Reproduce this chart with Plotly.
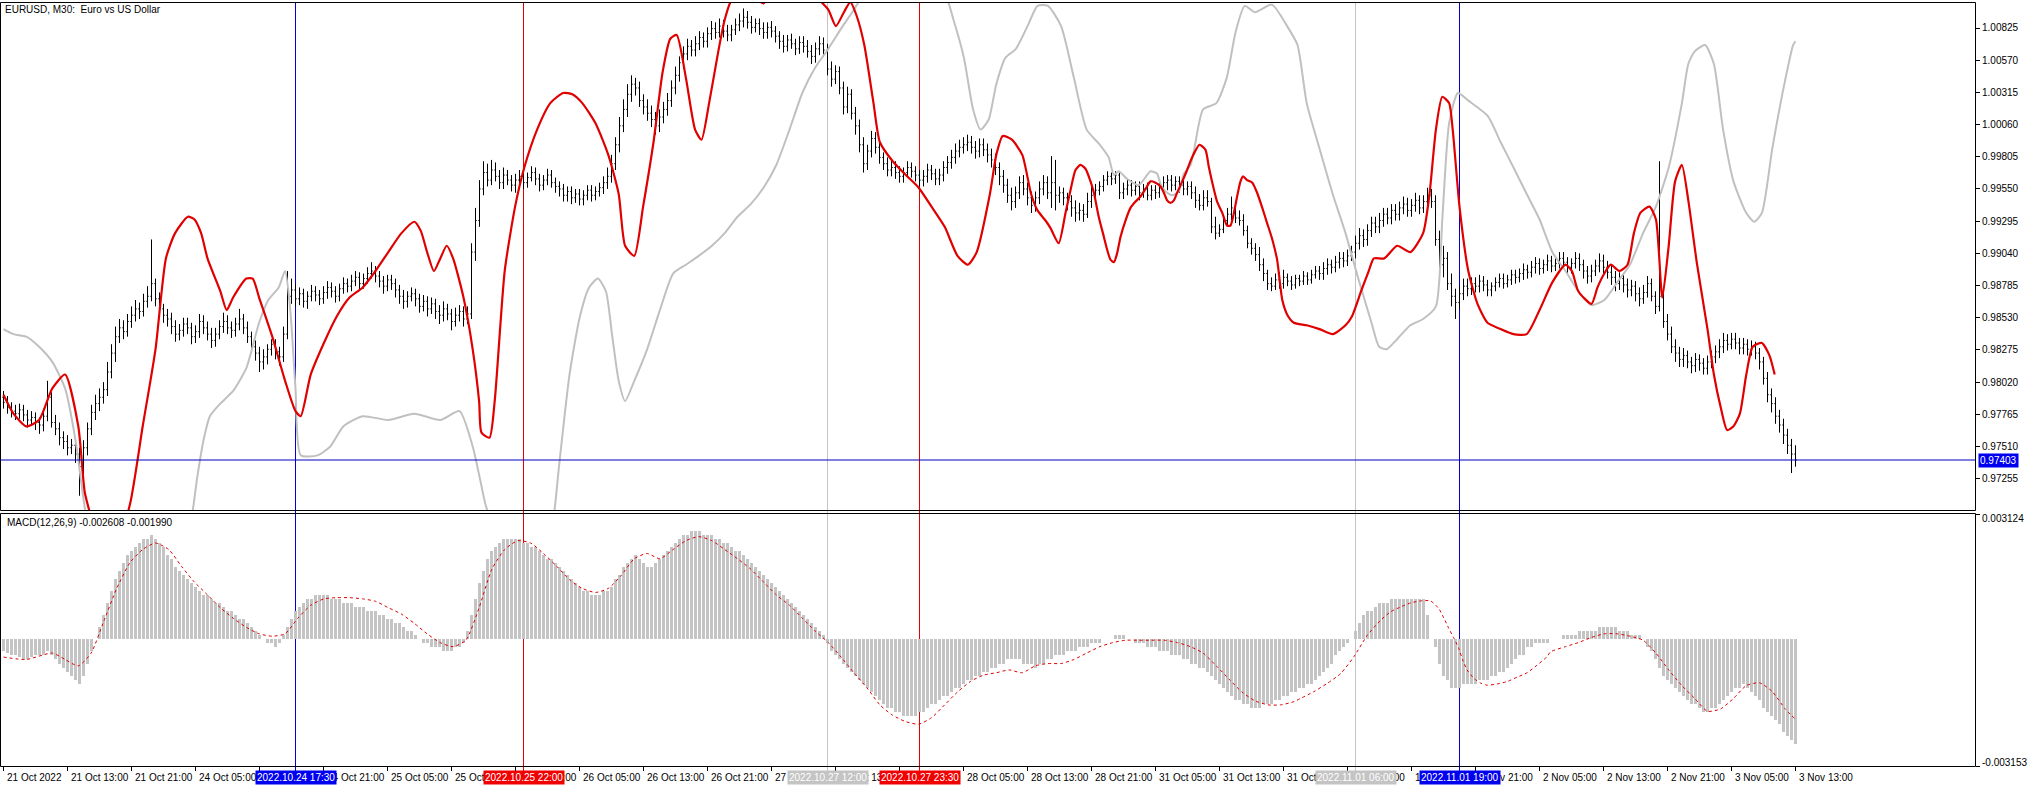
import plotly.graph_objects as go

W, H = 2028, 788

title_text = "EURUSD, M30:  Euro vs US Dollar"
macd_text = "MACD(12,26,9) -0.002608 -0.001990"

# ---------------- price bars (index = M30 bar number, 21 Oct 05:00 = 0) -------------
bar_idx = list(range(449))

opens = [
0.9790, 0.9786, 0.9782, 0.9779, 0.9777, 0.9780, 0.9776, 0.9772, 0.9774, 0.9770,
0.9768, 0.9775, 0.9790, 0.9770, 0.9765, 0.9758, 0.9755, 0.9750, 0.9752, 0.9745,
0.9735, 0.9750, 0.9765, 0.9778, 0.9785, 0.9790, 0.9796, 0.9810, 0.9825, 0.9838,
0.9845, 0.9842, 0.9850, 0.9855, 0.9860, 0.9858, 0.9866, 0.9870, 0.9880, 0.9868,
0.9860, 0.9855, 0.9852, 0.9846, 0.9840, 0.9843, 0.9848, 0.9845, 0.9838, 0.9842,
0.9850, 0.9845, 0.9840, 0.9835, 0.9840, 0.9846, 0.9850, 0.9845, 0.9843, 0.9848,
0.9852, 0.9845, 0.9838, 0.9830, 0.9825, 0.9818, 0.9822, 0.9828, 0.9832, 0.9826,
0.9822, 0.9840, 0.9870, 0.9875, 0.9868, 0.9872, 0.9866, 0.9870, 0.9874, 0.9871,
0.9868, 0.9873, 0.9877, 0.9874, 0.9870, 0.9876, 0.9880, 0.9878, 0.9882, 0.9885,
0.9880, 0.9884, 0.9888, 0.9890, 0.9886, 0.9882, 0.9878, 0.9883, 0.9880, 0.9875,
0.9870, 0.9866, 0.9870, 0.9872, 0.9868, 0.9862, 0.9866, 0.9860, 0.9864, 0.9858,
0.9855, 0.9860, 0.9856, 0.9850, 0.9855, 0.9858, 0.9852, 0.9856, 0.9905, 0.9930,
0.9955, 0.9968, 0.9962, 0.9970, 0.9965, 0.9960, 0.9966, 0.9962, 0.9958, 0.9962,
0.9965, 0.9960, 0.9964, 0.9968, 0.9963, 0.9958, 0.9962, 0.9966, 0.9960, 0.9957,
0.9955, 0.9950, 0.9953, 0.9948, 0.9951, 0.9947, 0.9950, 0.9954, 0.9950, 0.9953,
0.9956, 0.9960, 0.9965, 0.9975, 0.9990, 1.0005, 1.0018, 1.0030, 1.0038, 1.0035,
1.0025, 1.0020, 1.0015, 1.0010, 1.0005, 1.0012, 1.0018, 1.0025, 1.0035, 1.0045,
1.0055, 1.0062, 1.0068, 1.0065, 1.0070, 1.0075, 1.0072, 1.0078, 1.0082, 1.0079,
1.0084, 1.0080, 1.0077, 1.0081, 1.0085, 1.0088, 1.0091, 1.0087, 1.0083, 1.0086,
1.0082, 1.0079, 1.0083, 1.0080, 1.0076, 1.0072, 1.0068, 1.0073, 1.0070, 1.0066,
1.0071, 1.0068, 1.0064, 1.0060, 1.0066, 1.0070, 1.0065, 1.0050, 1.0042, 1.0048,
1.0035, 1.0020, 1.0030, 1.0015, 1.0005, 0.9990, 0.9975, 0.9985, 0.9995, 0.9988,
0.9980, 0.9975, 0.9970, 0.9972, 0.9968, 0.9965, 0.9968, 0.9972, 0.9969, 0.9966,
0.9962, 0.9965, 0.9970, 0.9967, 0.9963, 0.9966, 0.9972, 0.9976, 0.9980, 0.9985,
0.9988, 0.9990, 0.9992, 0.9988, 0.9985, 0.9990, 0.9986, 0.9982, 0.9978, 0.9972,
0.9965, 0.9958, 0.9950, 0.9945, 0.9952, 0.9960, 0.9955, 0.9948, 0.9942, 0.9948,
0.9955, 0.9960, 0.9952, 0.9960, 0.9950, 0.9952, 0.9948, 0.9945, 0.9940, 0.9936,
0.9938, 0.9935, 0.9945, 0.9950, 0.9954, 0.9957, 0.9962, 0.9965, 0.9963, 0.9966,
0.9952, 0.9955, 0.9958, 0.9954, 0.9957, 0.9952, 0.9955, 0.9950, 0.9954, 0.9952,
0.9956, 0.9960, 0.9962, 0.9958, 0.9961, 0.9958, 0.9955, 0.9957, 0.9952, 0.9946,
0.9942, 0.9948, 0.9945, 0.9925, 0.9920, 0.9923, 0.9930, 0.9935, 0.9940, 0.9932,
0.9930, 0.9922, 0.9912, 0.9908, 0.9903, 0.9895, 0.9888, 0.9880, 0.9878, 0.9883,
0.9880, 0.9885, 0.9882, 0.9879, 0.9884, 0.9882, 0.9886, 0.9883, 0.9887, 0.9890,
0.9888, 0.9892, 0.9895, 0.9893, 0.9897, 0.9900, 0.9898, 0.9902, 0.9905, 0.9912,
0.9918, 0.9915, 0.9922, 0.9928, 0.9925, 0.9930, 0.9935, 0.9932, 0.9938, 0.9935,
0.9940, 0.9943, 0.9938, 0.9942, 0.9946, 0.9940, 0.9945, 0.9950, 0.9945, 0.9915,
0.9895, 0.9900, 0.9880, 0.9870, 0.9865, 0.9872, 0.9878, 0.9876, 0.9880, 0.9878,
0.9882, 0.9879, 0.9875, 0.9878, 0.9881, 0.9884, 0.9880, 0.9883, 0.9887, 0.9885,
0.9888, 0.9891, 0.9889, 0.9893, 0.9896, 0.9892, 0.9895, 0.9898, 0.9894, 0.9896,
0.9900, 0.9897, 0.9893, 0.9896, 0.9900, 0.9895, 0.9890, 0.9886, 0.9890, 0.9894,
0.9898, 0.9893, 0.9889, 0.9885, 0.9880, 0.9884, 0.9879, 0.9875, 0.9878, 0.9872,
0.9868, 0.9873, 0.9880, 0.9870, 0.9862, 0.9870, 0.9850, 0.9840, 0.9830, 0.9825,
0.9820, 0.9823, 0.9818, 0.9815, 0.9820, 0.9817, 0.9813, 0.9818, 0.9822, 0.9826,
0.9830, 0.9835, 0.9832, 0.9836, 0.9833, 0.9829, 0.9832, 0.9828, 0.9830, 0.9825,
0.9818, 0.9805, 0.9792, 0.9785, 0.9775, 0.9768, 0.9760, 0.9752, 0.9745]

highs = [
0.9795, 0.9791, 0.9786, 0.9784, 0.9785, 0.9784, 0.9780, 0.9779, 0.9778, 0.9774,
0.9781, 0.9803, 0.9794, 0.9776, 0.9770, 0.9763, 0.9760, 0.9757, 0.9756, 0.9750,
0.9756, 0.9770, 0.9784, 0.9792, 0.9797, 0.9802, 0.9818, 0.9832, 0.9846, 0.9852,
0.9851, 0.9856, 0.9862, 0.9867, 0.9865, 0.9872, 0.9878, 0.9915, 0.9884, 0.9873,
0.9864, 0.9860, 0.9857, 0.9851, 0.9848, 0.9853, 0.9853, 0.9849, 0.9847, 0.9856,
0.9855, 0.9850, 0.9845, 0.9845, 0.9851, 0.9857, 0.9855, 0.9850, 0.9853, 0.9860,
0.9856, 0.9850, 0.9842, 0.9835, 0.9830, 0.9828, 0.9832, 0.9836, 0.9836, 0.9830,
0.9846, 0.9890, 0.9884, 0.9880, 0.9877, 0.9876, 0.9874, 0.9879, 0.9878, 0.9875,
0.9878, 0.9882, 0.9881, 0.9878, 0.9880, 0.9885, 0.9884, 0.9887, 0.9890, 0.9889,
0.9888, 0.9893, 0.9897, 0.9894, 0.9890, 0.9886, 0.9887, 0.9887, 0.9884, 0.9879,
0.9875, 0.9874, 0.9877, 0.9876, 0.9872, 0.9871, 0.9870, 0.9869, 0.9868, 0.9863,
0.9866, 0.9864, 0.9860, 0.9861, 0.9863, 0.9862, 0.9862, 0.9912, 0.9940, 0.9962,
0.9977, 0.9975, 0.9978, 0.9976, 0.9970, 0.9972, 0.9970, 0.9966, 0.9967, 0.9970,
0.9969, 0.9968, 0.9973, 0.9972, 0.9967, 0.9966, 0.9971, 0.9970, 0.9964, 0.9961,
0.9959, 0.9957, 0.9957, 0.9955, 0.9955, 0.9954, 0.9958, 0.9958, 0.9957, 0.9960,
0.9965, 0.9972, 0.9982, 0.9996, 1.0012, 1.0026, 1.0038, 1.0045, 1.0043, 1.0040,
1.0030, 1.0026, 1.0021, 1.0016, 1.0018, 1.0024, 1.0031, 1.0041, 1.0052, 1.0060,
1.0068, 1.0074, 1.0073, 1.0076, 1.0080, 1.0079, 1.0083, 1.0088, 1.0087, 1.0090,
1.0089, 1.0085, 1.0085, 1.0090, 1.0094, 1.0098, 1.0096, 1.0092, 1.0090, 1.0090,
1.0087, 1.0087, 1.0088, 1.0084, 1.0080, 1.0077, 1.0077, 1.0078, 1.0074, 1.0076,
1.0076, 1.0073, 1.0069, 1.0071, 1.0076, 1.0075, 1.0070, 1.0056, 1.0053, 1.0052,
1.0040, 1.0036, 1.0034, 1.0020, 1.0010, 0.9996, 0.9990, 1.0001, 1.0000, 0.9993,
0.9984, 0.9980, 0.9977, 0.9977, 0.9973, 0.9972, 0.9977, 0.9976, 0.9973, 0.9970,
0.9970, 0.9975, 0.9974, 0.9971, 0.9971, 0.9977, 0.9981, 0.9986, 0.9991, 0.9994,
0.9996, 0.9998, 0.9997, 0.9993, 0.9995, 0.9995, 0.9991, 0.9987, 0.9983, 0.9976,
0.9970, 0.9963, 0.9956, 0.9957, 0.9965, 0.9966, 0.9960, 0.9953, 0.9953, 0.9961,
0.9966, 0.9965, 0.9981, 0.9978, 0.9957, 0.9956, 0.9952, 0.9950, 0.9946, 0.9944,
0.9943, 0.9952, 0.9957, 0.9959, 0.9961, 0.9966, 0.9969, 0.9968, 0.9969, 0.9968,
0.9960, 0.9963, 0.9962, 0.9961, 0.9961, 0.9959, 0.9960, 0.9958, 0.9958, 0.9960,
0.9965, 0.9966, 0.9966, 0.9965, 0.9965, 0.9962, 0.9961, 0.9961, 0.9957, 0.9951,
0.9954, 0.9954, 0.9948, 0.9933, 0.9927, 0.9934, 0.9940, 0.9949, 0.9945, 0.9938,
0.9935, 0.9926, 0.9916, 0.9912, 0.9909, 0.9900, 0.9891, 0.9885, 0.9888, 0.9889,
0.9891, 0.9888, 0.9886, 0.9887, 0.9887, 0.9890, 0.9889, 0.9891, 0.9894, 0.9894,
0.9897, 0.9900, 0.9899, 0.9902, 0.9905, 0.9905, 0.9907, 0.9910, 0.9918, 0.9924,
0.9923, 0.9927, 0.9933, 0.9933, 0.9936, 0.9940, 0.9940, 0.9943, 0.9943, 0.9945,
0.9949, 0.9948, 0.9947, 0.9952, 0.9950, 0.9950, 0.9956, 0.9955, 0.9950, 0.9922,
0.9910, 0.9905, 0.9888, 0.9876, 0.9878, 0.9884, 0.9884, 0.9885, 0.9885, 0.9887,
0.9886, 0.9883, 0.9881, 0.9885, 0.9888, 0.9888, 0.9887, 0.9891, 0.9891, 0.9892,
0.9896, 0.9895, 0.9898, 0.9901, 0.9900, 0.9899, 0.9903, 0.9902, 0.9900, 0.9905,
0.9905, 0.9901, 0.9900, 0.9905, 0.9904, 0.9899, 0.9894, 0.9895, 0.9899, 0.9904,
0.9903, 0.9898, 0.9894, 0.9890, 0.9889, 0.9888, 0.9884, 0.9883, 0.9882, 0.9877,
0.9879, 0.9886, 0.9884, 0.9874, 0.9977, 0.9875, 0.9856, 0.9846, 0.9836, 0.9830,
0.9829, 0.9827, 0.9822, 0.9825, 0.9824, 0.9821, 0.9823, 0.9827, 0.9831, 0.9836,
0.9841, 0.9840, 0.9841, 0.9841, 0.9837, 0.9837, 0.9836, 0.9835, 0.9834, 0.9829,
0.9822, 0.9810, 0.9797, 0.9790, 0.9780, 0.9773, 0.9765, 0.9757, 0.9752]

lows = [
0.9781, 0.9777, 0.9774, 0.9772, 0.9773, 0.9771, 0.9766, 0.9768, 0.9764, 0.9761,
0.9763, 0.9771, 0.9766, 0.9760, 0.9752, 0.9749, 0.9744, 0.9745, 0.9738, 0.9712,
0.9722, 0.9744, 0.9760, 0.9772, 0.9779, 0.9785, 0.9791, 0.9805, 0.9818, 0.9833,
0.9836, 0.9838, 0.9845, 0.9850, 0.9852, 0.9854, 0.9861, 0.9866, 0.9862, 0.9855,
0.9849, 0.9846, 0.9840, 0.9834, 0.9835, 0.9838, 0.9840, 0.9832, 0.9833, 0.9837,
0.9840, 0.9835, 0.9829, 0.9830, 0.9836, 0.9841, 0.9840, 0.9837, 0.9838, 0.9843,
0.9840, 0.9833, 0.9825, 0.9819, 0.9810, 0.9812, 0.9816, 0.9823, 0.9820, 0.9815,
0.9818, 0.9836, 0.9864, 0.9862, 0.9863, 0.9861, 0.9860, 0.9866, 0.9866, 0.9863,
0.9864, 0.9868, 0.9869, 0.9865, 0.9866, 0.9872, 0.9873, 0.9874, 0.9878, 0.9875,
0.9876, 0.9880, 0.9884, 0.9881, 0.9877, 0.9872, 0.9874, 0.9875, 0.9869, 0.9864,
0.9860, 0.9861, 0.9866, 0.9862, 0.9857, 0.9858, 0.9854, 0.9856, 0.9852, 0.9848,
0.9850, 0.9851, 0.9843, 0.9846, 0.9850, 0.9846, 0.9848, 0.9852, 0.9898, 0.9925,
0.9950, 0.9957, 0.9958, 0.9961, 0.9955, 0.9955, 0.9958, 0.9953, 0.9952, 0.9957,
0.9955, 0.9956, 0.9961, 0.9958, 0.9953, 0.9954, 0.9958, 0.9956, 0.9952, 0.9949,
0.9945, 0.9945, 0.9943, 0.9944, 0.9942, 0.9942, 0.9946, 0.9945, 0.9946, 0.9949,
0.9951, 0.9955, 0.9960, 0.9970, 0.9984, 1.0000, 1.0012, 1.0024, 1.0029, 1.0020,
1.0014, 1.0009, 1.0004, 0.9998, 1.0000, 1.0007, 1.0013, 1.0020, 1.0030, 1.0040,
1.0050, 1.0057, 1.0060, 1.0060, 1.0065, 1.0067, 1.0067, 1.0073, 1.0074, 1.0075,
1.0075, 1.0072, 1.0072, 1.0077, 1.0080, 1.0083, 1.0082, 1.0078, 1.0079, 1.0077,
1.0074, 1.0074, 1.0075, 1.0071, 1.0066, 1.0063, 1.0064, 1.0066, 1.0061, 1.0062,
1.0063, 1.0059, 1.0054, 1.0055, 1.0061, 1.0060, 1.0045, 1.0036, 1.0038, 1.0030,
1.0014, 1.0015, 1.0010, 0.9998, 0.9984, 0.9968, 0.9970, 0.9980, 0.9983, 0.9975,
0.9970, 0.9965, 0.9965, 0.9963, 0.9960, 0.9960, 0.9964, 0.9964, 0.9961, 0.9957,
0.9957, 0.9960, 0.9962, 0.9958, 0.9958, 0.9961, 0.9967, 0.9971, 0.9975, 0.9980,
0.9983, 0.9985, 0.9983, 0.9979, 0.9980, 0.9981, 0.9976, 0.9972, 0.9966, 0.9958,
0.9952, 0.9944, 0.9938, 0.9940, 0.9947, 0.9950, 0.9942, 0.9936, 0.9937, 0.9943,
0.9950, 0.9947, 0.9940, 0.9938, 0.9944, 0.9942, 0.9938, 0.9933, 0.9929, 0.9930,
0.9929, 0.9932, 0.9940, 0.9946, 0.9950, 0.9953, 0.9958, 0.9958, 0.9959, 0.9947,
0.9947, 0.9950, 0.9949, 0.9950, 0.9946, 0.9948, 0.9946, 0.9946, 0.9947, 0.9948,
0.9951, 0.9954, 0.9953, 0.9954, 0.9952, 0.9950, 0.9950, 0.9947, 0.9940, 0.9938,
0.9938, 0.9941, 0.9920, 0.9915, 0.9917, 0.9920, 0.9925, 0.9930, 0.9928, 0.9926,
0.9918, 0.9908, 0.9903, 0.9898, 0.9890, 0.9882, 0.9875, 0.9874, 0.9875, 0.9876,
0.9876, 0.9878, 0.9875, 0.9876, 0.9878, 0.9879, 0.9879, 0.9880, 0.9884, 0.9883,
0.9883, 0.9887, 0.9888, 0.9889, 0.9892, 0.9893, 0.9894, 0.9898, 0.9900, 0.9907,
0.9909, 0.9910, 0.9917, 0.9920, 0.9920, 0.9925, 0.9927, 0.9927, 0.9930, 0.9930,
0.9935, 0.9933, 0.9933, 0.9937, 0.9935, 0.9936, 0.9940, 0.9940, 0.9910, 0.9885,
0.9885, 0.9875, 0.9862, 0.9852, 0.9860, 0.9867, 0.9870, 0.9871, 0.9873, 0.9873,
0.9874, 0.9870, 0.9870, 0.9874, 0.9877, 0.9876, 0.9877, 0.9879, 0.9880, 0.9881,
0.9883, 0.9884, 0.9885, 0.9888, 0.9887, 0.9888, 0.9890, 0.9889, 0.9890, 0.9892,
0.9892, 0.9888, 0.9888, 0.9892, 0.9890, 0.9884, 0.9880, 0.9881, 0.9886, 0.9889,
0.9888, 0.9884, 0.9879, 0.9874, 0.9875, 0.9873, 0.9869, 0.9870, 0.9866, 0.9862,
0.9864, 0.9869, 0.9866, 0.9856, 0.9858, 0.9845, 0.9835, 0.9825, 0.9818, 0.9814,
0.9814, 0.9813, 0.9809, 0.9810, 0.9811, 0.9808, 0.9808, 0.9813, 0.9817, 0.9821,
0.9825, 0.9827, 0.9828, 0.9828, 0.9824, 0.9824, 0.9823, 0.9823, 0.9820, 0.9812,
0.9800, 0.9786, 0.9778, 0.9769, 0.9762, 0.9753, 0.9745, 0.9730, 0.9735]

closes = [
0.9786, 0.9782, 0.9779, 0.9777, 0.9780, 0.9776, 0.9772, 0.9774, 0.9770, 0.9768,
0.9775, 0.9790, 0.9770, 0.9765, 0.9758, 0.9755, 0.9750, 0.9752, 0.9745, 0.9735,
0.9750, 0.9765, 0.9778, 0.9785, 0.9790, 0.9796, 0.9810, 0.9825, 0.9838, 0.9845,
0.9842, 0.9850, 0.9855, 0.9860, 0.9858, 0.9866, 0.9870, 0.9880, 0.9868, 0.9860,
0.9855, 0.9852, 0.9846, 0.9840, 0.9843, 0.9848, 0.9845, 0.9838, 0.9842, 0.9850,
0.9845, 0.9840, 0.9835, 0.9840, 0.9846, 0.9850, 0.9845, 0.9843, 0.9848, 0.9852,
0.9845, 0.9838, 0.9830, 0.9825, 0.9818, 0.9822, 0.9828, 0.9832, 0.9826, 0.9822,
0.9840, 0.9870, 0.9875, 0.9868, 0.9872, 0.9866, 0.9870, 0.9874, 0.9871, 0.9868,
0.9873, 0.9877, 0.9874, 0.9870, 0.9876, 0.9880, 0.9878, 0.9882, 0.9885, 0.9880,
0.9884, 0.9888, 0.9890, 0.9886, 0.9882, 0.9878, 0.9883, 0.9880, 0.9875, 0.9870,
0.9866, 0.9870, 0.9872, 0.9868, 0.9862, 0.9866, 0.9860, 0.9864, 0.9858, 0.9855,
0.9860, 0.9856, 0.9850, 0.9855, 0.9858, 0.9852, 0.9856, 0.9905, 0.9930, 0.9955,
0.9968, 0.9962, 0.9970, 0.9965, 0.9960, 0.9966, 0.9962, 0.9958, 0.9962, 0.9965,
0.9960, 0.9964, 0.9968, 0.9963, 0.9958, 0.9962, 0.9966, 0.9960, 0.9957, 0.9955,
0.9950, 0.9953, 0.9948, 0.9951, 0.9947, 0.9950, 0.9954, 0.9950, 0.9953, 0.9956,
0.9960, 0.9965, 0.9975, 0.9990, 1.0005, 1.0018, 1.0030, 1.0038, 1.0035, 1.0025,
1.0020, 1.0015, 1.0010, 1.0005, 1.0012, 1.0018, 1.0025, 1.0035, 1.0045, 1.0055,
1.0062, 1.0068, 1.0065, 1.0070, 1.0075, 1.0072, 1.0078, 1.0082, 1.0079, 1.0084,
1.0080, 1.0077, 1.0081, 1.0085, 1.0088, 1.0091, 1.0087, 1.0083, 1.0086, 1.0082,
1.0079, 1.0083, 1.0080, 1.0076, 1.0072, 1.0068, 1.0073, 1.0070, 1.0066, 1.0071,
1.0068, 1.0064, 1.0060, 1.0066, 1.0070, 1.0065, 1.0050, 1.0042, 1.0048, 1.0035,
1.0020, 1.0030, 1.0015, 1.0005, 0.9990, 0.9975, 0.9985, 0.9995, 0.9988, 0.9980,
0.9975, 0.9970, 0.9972, 0.9968, 0.9965, 0.9968, 0.9972, 0.9969, 0.9966, 0.9962,
0.9965, 0.9970, 0.9967, 0.9963, 0.9966, 0.9972, 0.9976, 0.9980, 0.9985, 0.9988,
0.9990, 0.9992, 0.9988, 0.9985, 0.9990, 0.9986, 0.9982, 0.9978, 0.9972, 0.9965,
0.9958, 0.9950, 0.9945, 0.9952, 0.9960, 0.9955, 0.9948, 0.9942, 0.9948, 0.9955,
0.9960, 0.9952, 0.9960, 0.9950, 0.9952, 0.9948, 0.9945, 0.9940, 0.9936, 0.9938,
0.9935, 0.9945, 0.9950, 0.9954, 0.9957, 0.9962, 0.9965, 0.9963, 0.9966, 0.9952,
0.9955, 0.9958, 0.9954, 0.9957, 0.9952, 0.9955, 0.9950, 0.9954, 0.9952, 0.9956,
0.9960, 0.9962, 0.9958, 0.9961, 0.9958, 0.9955, 0.9957, 0.9952, 0.9946, 0.9942,
0.9948, 0.9945, 0.9925, 0.9920, 0.9923, 0.9930, 0.9935, 0.9940, 0.9932, 0.9930,
0.9922, 0.9912, 0.9908, 0.9903, 0.9895, 0.9888, 0.9880, 0.9878, 0.9883, 0.9880,
0.9885, 0.9882, 0.9879, 0.9884, 0.9882, 0.9886, 0.9883, 0.9887, 0.9890, 0.9888,
0.9892, 0.9895, 0.9893, 0.9897, 0.9900, 0.9898, 0.9902, 0.9905, 0.9912, 0.9918,
0.9915, 0.9922, 0.9928, 0.9925, 0.9930, 0.9935, 0.9932, 0.9938, 0.9935, 0.9940,
0.9943, 0.9938, 0.9942, 0.9946, 0.9940, 0.9945, 0.9950, 0.9945, 0.9915, 0.9895,
0.9900, 0.9880, 0.9870, 0.9865, 0.9872, 0.9878, 0.9876, 0.9880, 0.9878, 0.9882,
0.9879, 0.9875, 0.9878, 0.9881, 0.9884, 0.9880, 0.9883, 0.9887, 0.9885, 0.9888,
0.9891, 0.9889, 0.9893, 0.9896, 0.9892, 0.9895, 0.9898, 0.9894, 0.9896, 0.9900,
0.9897, 0.9893, 0.9896, 0.9900, 0.9895, 0.9890, 0.9886, 0.9890, 0.9894, 0.9898,
0.9893, 0.9889, 0.9885, 0.9880, 0.9884, 0.9879, 0.9875, 0.9878, 0.9872, 0.9868,
0.9873, 0.9880, 0.9870, 0.9862, 0.9870, 0.9850, 0.9840, 0.9830, 0.9825, 0.9820,
0.9823, 0.9818, 0.9815, 0.9820, 0.9817, 0.9813, 0.9818, 0.9822, 0.9826, 0.9830,
0.9835, 0.9832, 0.9836, 0.9833, 0.9829, 0.9832, 0.9828, 0.9830, 0.9825, 0.9818,
0.9805, 0.9792, 0.9785, 0.9775, 0.9768, 0.9760, 0.9752, 0.9745, 0.97403]

# ---------------- red indicator line (price-panel values at bar positions) -------------
red_idx = [0, 2.5, 5.7, 8.9, 12.2, 15.4, 18.7, 20.3, 21.9, 26, 31.6, 34.8, 38.0, 40.6, 42.9,
           46.1, 47.7, 49.4, 51.0, 54.2, 55.8, 57.4, 60.7, 62.3, 63.9, 67.2, 70.4, 73.0, 74.3,
           76.8, 80.1, 83.3, 86.5, 89.8, 93.0, 96.2, 99.5, 102.7, 104.3, 105.9, 107.6, 109.2,
           110.8, 112.4, 115.0, 117.3, 118.9, 119.5, 121.5, 122.8, 125.3, 127.9, 130.2, 133.4,
           136.7, 139.9, 142.2, 144.7, 148.0, 151.2, 153.8, 155.4, 157.7, 159.9, 162.5, 164.8,
           166.7, 168.3, 170.6, 172.9, 174.5, 176.4, 178.7, 180.3, 182.0, 184.5, 187.7, 190.0,
           193.2, 199.7, 203.9, 206.2, 208.1, 210.1, 211.7, 213.3, 215.2, 217.5, 219.1, 222.3,
           225.6, 228.8, 232.0, 235.3, 238.5, 241.1, 243.3, 246.6, 248.2, 249.8, 252.1, 254.7,
           256.9, 258.5, 260.5, 261.75, 263.8, 265.5, 266.75, 268.0, 269.25, 270.5, 271.75,
           272.6, 273.8, 275.1, 275.9, 276.75, 277.6, 278.4, 279.25, 280.5, 281.75, 283.0,
           284.25, 285.5, 286.75, 288.0, 289.25, 290.1, 290.9, 291.75, 292.6, 293.4, 294.7,
           295.9, 296.75, 297.6, 299.0, 300.5, 301.3, 302.2, 303.4, 304.7, 305.9, 306.75,
           307.6, 308.4, 309.25, 309.9, 310.9, 312.2, 313.4, 314.7, 315.9, 317.2, 318.4,
           319.7, 321.0, 322.6, 325.8, 329.0, 332.3, 335.5, 337.1, 339.4, 341.3, 342.6,
           345.2, 348.4, 351.7, 354.9, 356.5, 358.1, 359.7, 361.4, 362.3, 364.0, 366.2,
           368.5, 371.0, 374.3, 377.5, 380.8, 384.0, 387.2, 390.5, 392.1, 393.7, 397.0,
           398.5, 400.2, 401.8, 404.0, 406.0, 407.6, 409.2, 411.5, 413.1, 414.7, 416.3,
           417.9, 419.6, 421.2, 423.4, 426.0, 427.6, 429.3, 430.9, 432.5, 434.1, 435.7,
           437.3, 439.6, 441.5, 442.8]
red_val = [0.9792, 0.9777, 0.9767, 0.9772, 0.9797, 0.9808, 0.9767, 0.9715, 0.9695, 0.9650,
           0.9705, 0.9767, 0.9828, 0.9900, 0.9920, 0.9933, 0.9931, 0.9920, 0.9900, 0.9874,
           0.9859, 0.9869, 0.9884, 0.9884, 0.9869, 0.9838, 0.9803, 0.9779, 0.9775, 0.9808,
           0.9833, 0.9854, 0.9869, 0.9877, 0.9890, 0.9905, 0.9920, 0.9929, 0.9922, 0.9905,
           0.9890, 0.9900, 0.9910, 0.9900, 0.9869, 0.9828, 0.9787, 0.9762, 0.9758, 0.9787,
           0.9890, 0.9941, 0.9972, 1.0002, 1.0023, 1.0031, 1.0030, 1.0023, 1.0007, 0.9982,
           0.9951, 0.9910, 0.9902, 0.9941, 0.9992, 1.0048, 1.0074, 1.0077, 1.0043, 1.0002,
           0.9994, 1.0023, 1.0064, 1.0089, 1.0105, 1.0115, 1.0107, 1.0102, 1.0117, 1.0120,
           1.0105, 1.0097, 1.0084, 1.0095, 1.0103, 1.0092, 1.0069, 1.0023, 0.9992, 0.9977,
           0.9966, 0.9956, 0.9941, 0.9925, 0.9902, 0.9895, 0.9905, 0.9951, 0.9982, 0.9997,
           0.9994, 0.9982, 0.9951, 0.9938, 0.9930, 0.9924, 0.9912, 0.9936, 0.9954, 0.9970,
           0.9974, 0.9971, 0.9961, 0.9952, 0.9933, 0.9917, 0.9907, 0.9899, 0.9897, 0.9904,
           0.9917, 0.9930, 0.9940, 0.9945, 0.9949, 0.9955, 0.9961, 0.9960, 0.9957, 0.9952,
           0.9946, 0.9944, 0.9946, 0.9952, 0.9961, 0.9970, 0.9977, 0.9983, 0.9990, 0.9986,
           0.9973, 0.9960, 0.9945, 0.9936, 0.9926, 0.9926, 0.9936, 0.9949, 0.9961, 0.9965,
           0.9962, 0.9960, 0.9952, 0.9940, 0.9928, 0.9915, 0.9899, 0.9867, 0.9855, 0.9849,
           0.9847, 0.9844, 0.9840, 0.9847, 0.9854, 0.9874, 0.9890, 0.9900, 0.9900, 0.9910,
           0.9905, 0.9920, 0.9951, 1.0002, 1.0028, 1.0023, 1.0002, 0.9941, 0.9890, 0.9864,
           0.9849, 0.9844, 0.9840, 0.9840, 0.9859, 0.9881, 0.9895, 0.9890, 0.9874, 0.9864,
           0.9877, 0.9888, 0.9895, 0.9890, 0.9895, 0.9920, 0.9936, 0.9941, 0.9931, 0.9869,
           0.9910, 0.9961, 0.9974, 0.9946, 0.9895, 0.9844, 0.9808, 0.9782, 0.9764, 0.9767,
           0.9777, 0.9808, 0.9830, 0.9833, 0.9823, 0.9808]

# ---------------- grey indicator line -------------
grey_idx = [0, 2.5, 5.7, 8.9, 12.2, 15.4, 18.0, 19.3, 20.6, 25, 40, 47.1, 48.4, 50.0, 51.6,
            54.2, 57.4, 60.7, 63.9, 66.2, 68.8, 70.4, 71.7, 73.0, 74.3, 78.5, 81.7, 85.0,
            89.8, 96.2, 102.7, 109.2, 114.0, 117.3, 120.5, 121.5, 125, 134, 137.6, 138.9,
            141.5, 144.1, 146.4, 148.6, 150.6, 152.2, 153.8, 155.4, 157.7, 160.9, 164.1,
            167.4, 170.6, 173.8, 177.1, 180.3, 183.5, 186.8, 190.0, 193.2, 196.5, 199.7,
            202.9, 206.2, 209.4, 212.6, 215.2, 225, 235.3, 237.5, 240.1, 242.4, 244.3,
            246.3, 248.2, 250.5, 253.1, 256.3, 258.5, 261.1, 264.4, 267.6, 270.8, 274.1,
            276.3, 277.6, 278.8, 280.9, 283.8, 286.75, 288.4, 289.25, 290.5, 292.2, 293.8,
            295.1, 296.75, 297.6, 299.9, 303.2, 305.8, 308.0, 310.3, 312.9, 317.1, 320.9,
            323.5, 325.8, 329.0, 332.3, 335.5, 338.7, 342.0, 343.9, 345.8, 348.4, 351.7,
            354.9, 358.1, 359.7, 361.4, 363.6, 366.2, 371.0, 374.3, 377.5, 380.8, 384.0,
            387.2, 390.5, 393.7, 397.0, 400.2, 403.4, 406.6, 409.9, 413.1, 416.3, 419.6,
            421.2, 422.8, 425.4, 427.6, 429.9, 432.5, 435.7, 437.7, 439.6, 442.2, 445.4,
            447.4, 448]
grey_val = [0.9844, 0.9840, 0.9838, 0.9830, 0.9818, 0.9797, 0.9756, 0.9726, 0.9697, 0.9640,
            0.9620, 0.9697, 0.9726, 0.9756, 0.9775, 0.9785, 0.9795, 0.9813, 0.9849, 0.9867,
            0.9877, 0.9890, 0.9859, 0.9797, 0.9744, 0.9744, 0.9751, 0.9767, 0.9775, 0.9772,
            0.9777, 0.9772, 0.9779, 0.9751, 0.9705, 0.9695, 0.9640, 0.9640, 0.9697, 0.9736,
            0.9808, 0.9854, 0.9877, 0.9884, 0.9874, 0.9838, 0.9803, 0.9787, 0.9803, 0.9828,
            0.9859, 0.9888, 0.9895, 0.9902, 0.9910, 0.9920, 0.9933, 0.9943, 0.9956, 0.9974,
            1.0002, 1.0031, 1.0051, 1.0066, 1.0082, 1.0097, 1.0110, 1.0140, 1.0110, 1.0089,
            1.0059, 1.0018, 1.0002, 1.0010, 1.0038, 1.0059, 1.0066, 1.0086, 1.0100, 1.0100,
            1.0084, 1.0043, 1.0002, 0.9990, 0.9980, 0.9966, 0.9969, 0.9963, 0.9958, 0.9969,
            0.9967, 0.9959, 0.9953, 0.9950, 0.9953, 0.9967, 0.9974, 0.9985, 1.0018, 1.0023,
            1.0043, 1.0079, 1.0100, 1.0095, 1.0101, 1.0084, 1.0069, 1.0023, 0.9987, 0.9951,
            0.9920, 0.9884, 0.9849, 0.9830, 0.9828, 0.9836, 0.9847, 0.9852, 0.9862, 0.9931,
            1.0007, 1.0031, 1.0025, 1.0013, 0.9992, 0.9972, 0.9951, 0.9931, 0.9905, 0.9890,
            0.9874, 0.9863, 0.9867, 0.9881, 0.9895, 0.9920, 0.9941, 0.9972, 1.0023, 1.0054,
            1.0064, 1.0069, 1.0054, 1.0002, 0.9961, 0.9936, 0.9929, 0.9936, 0.9987, 1.0041,
            1.0069, 1.0072]

# ---------------- MACD panel -------------
macd_hist = [
-0.0003, -0.00035, -0.0004, -0.0004, -0.00045, -0.0005, -0.0005, -0.00045, -0.0004, -0.0004,
-0.0004, -0.0003, -0.0004, -0.0005, -0.0006, -0.0007, -0.0008, -0.0009, -0.0010, -0.0011,
-0.0009, -0.0006, -0.0003, 0.0000, 0.0003, 0.0006, 0.0009, 0.0012, 0.0015, 0.0017,
0.0019, 0.0021, 0.0022, 0.0023, 0.0024, 0.0025, 0.0025, 0.0026, 0.0025, 0.0024,
0.0023, 0.0021, 0.0020, 0.0018, 0.0017, 0.0016, 0.0015, 0.0014, 0.0013, 0.0012,
0.0011, 0.0011, 0.0010, 0.0009, 0.0009, 0.0008, 0.0007, 0.0007, 0.0006, 0.0005,
0.0005, 0.0004, 0.0003, 0.0002, 0.0001, 0.0000, -0.0001, -0.0001, -0.0002, -0.0001,
0.0001, 0.0003, 0.0005, 0.0007, 0.0008, 0.0009, 0.0010, 0.0010, 0.0011, 0.0011,
0.0011, 0.0011, 0.0010, 0.0010, 0.0010, 0.0009, 0.0009, 0.0009, 0.0008, 0.0008,
0.0008, 0.0007, 0.0007, 0.0007, 0.0006, 0.0006, 0.0005, 0.0005, 0.0004, 0.0004,
0.0003, 0.0002, 0.0002, 0.0001, 0.0000, -0.0001, -0.0001, -0.0002, -0.0002, -0.0002,
-0.0003, -0.0003, -0.0003, -0.0002, -0.0002, -0.0001, 0.0002, 0.0006, 0.0010, 0.0014,
0.0017, 0.0020, 0.0022, 0.0023, 0.0024, 0.0025, 0.0025, 0.0025, 0.0025, 0.0025,
0.0024, 0.0024, 0.0023, 0.0023, 0.0022, 0.0021, 0.0020, 0.0020, 0.0019, 0.0018,
0.0017, 0.0016, 0.0015, 0.0014, 0.0013, 0.0012, 0.0012, 0.0011, 0.0011, 0.0011,
0.0012, 0.0012, 0.0013, 0.0015, 0.0016, 0.0018, 0.0019, 0.0020, 0.0021, 0.0020,
0.0019, 0.0018, 0.0018, 0.0019, 0.0020, 0.0021, 0.0022, 0.0023, 0.0024, 0.0025,
0.0026, 0.0026, 0.0027, 0.0027, 0.0027, 0.0026, 0.0026, 0.0026, 0.0025, 0.0025,
0.0024, 0.0024, 0.0023, 0.0022, 0.0022, 0.0021, 0.0020, 0.0019, 0.0018, 0.0017,
0.0016, 0.0015, 0.0014, 0.0013, 0.0012, 0.0011, 0.0010, 0.0009, 0.0008, 0.0007,
0.0006, 0.0005, 0.0004, 0.0003, 0.0002, 0.0001, -0.0001, -0.0003, -0.0004, -0.0005,
-0.0006, -0.0007, -0.0008, -0.0009, -0.0010, -0.0011, -0.0012, -0.0013, -0.0014, -0.0015,
-0.0016, -0.0017, -0.0017, -0.0018, -0.0018, -0.0019, -0.0019, -0.0019, -0.0019, -0.0018,
-0.0018, -0.0017, -0.0016, -0.0016, -0.0015, -0.0014, -0.0014, -0.0013, -0.0012, -0.0012,
-0.0011, -0.0010, -0.0010, -0.0009, -0.0009, -0.0008, -0.0008, -0.0007, -0.0007, -0.0006,
-0.0006, -0.0005, -0.0005, -0.0005, -0.0005, -0.0006, -0.0006, -0.0006, -0.0007, -0.0006,
-0.0006, -0.0005, -0.0005, -0.0004, -0.0004, -0.0004, -0.0003, -0.0003, -0.0003, -0.0002,
-0.0002, -0.0002, -0.0001, -0.0001, -0.0001, 0.0000, 0.0000, 0.0000, 0.0001, 0.0001,
0.0001, 0.0000, 0.0000, -0.0001, -0.0001, -0.0001, -0.0002, -0.0002, -0.0002, -0.0003,
-0.0003, -0.0003, -0.0004, -0.0004, -0.0004, -0.0005, -0.0005, -0.0006, -0.0006, -0.0007,
-0.0007, -0.0008, -0.0009, -0.0010, -0.0011, -0.0012, -0.0013, -0.0014, -0.0015, -0.0015,
-0.0016, -0.0016, -0.0017, -0.0017, -0.0017, -0.0016, -0.0016, -0.0016, -0.0015, -0.0015,
-0.0014, -0.0014, -0.0013, -0.0013, -0.0012, -0.0012, -0.0011, -0.0011, -0.0010, -0.0009,
-0.0008, -0.0007, -0.0006, -0.0004, -0.0003, -0.0002, -0.0001, 0.0000, 0.0002, 0.0004,
0.0006, 0.0007, 0.0007, 0.0008, 0.0009, 0.0009, 0.0009, 0.0010, 0.0010, 0.0010,
0.0010, 0.0010, 0.0010, 0.0010, 0.0010, 0.0010, 0.0006, 0.0000, -0.0002, -0.0006,
-0.0009, -0.0010, -0.0012, -0.0012, -0.0012, -0.0011, -0.0011, -0.0011, -0.0011, -0.0010,
-0.0010, -0.0010, -0.0009, -0.0009, -0.0008, -0.0008, -0.0007, -0.0006, -0.0005, -0.0004,
-0.0004, -0.0002, -0.0002, -0.0001, -0.0001, -0.0001, -0.0001, 0.0000, 0.0000, 0.0000,
0.0001, 0.0001, 0.0001, 0.0001, 0.0002, 0.0002, 0.0002, 0.0002, 0.0002, 0.0003,
0.0003, 0.0003, 0.0003, 0.0003, 0.0002, 0.0002, 0.0002, 0.0001, 0.0001, 0.0001,
0.0000, -0.0002, -0.0003, -0.0005, -0.0007, -0.0009, -0.0010, -0.0011, -0.0012, -0.0013,
-0.0014, -0.0015, -0.0016, -0.0016, -0.0017, -0.0018, -0.0018, -0.0017, -0.0017, -0.0016,
-0.0015, -0.0014, -0.0013, -0.0012, -0.0012, -0.0011, -0.0012, -0.0013, -0.0014, -0.0015,
-0.0017, -0.0018, -0.0019, -0.0020, -0.0021, -0.0023, -0.0024, -0.0025, -0.0026]

signal_idx = [0, 5.7, 12.2, 15.4, 18.7, 21.9, 25.1, 28.3, 31.6, 34.8, 38.0, 41.3, 44.5, 47.7,
              51.0, 54.2, 57.4, 60.7, 63.9, 67.2, 70.4, 73.6, 76.8, 80.1, 83.3, 86.5, 89.8,
              93.0, 96.2, 99.5, 102.7, 105.9, 109.2, 112.4, 115.6, 118.9, 122.1, 125.3, 128.6,
              131.8, 135.0, 138.3, 141.5, 144.7, 148.0, 151.2, 154.4, 157.7, 160.9, 164.1,
              167.4, 170.6, 173.8, 177.1, 180.3, 183.5, 186.8, 190.0, 193.2, 196.5, 199.7,
              202.9, 206.2, 209.4, 212.6, 215.9, 219.1, 222.3, 225.6, 228.8, 232.0, 235.3,
              238.5, 241.7, 245.0, 248.2, 251.4, 254.7, 257.9, 261.1, 264.4, 267.6, 270.8,
              274.1, 277.3, 280.5, 283.8, 287.0, 290.2, 293.5, 296.7, 299.9, 303.2, 306.4,
              309.6, 312.9, 316.1, 319.3, 322.6, 324.25, 327.6, 331.0, 334.3, 337.6, 341.0,
              344.3, 346.8, 349.3, 351.8, 354.3, 356.75, 358.8, 360.1, 361.3, 362.6, 363.8,
              364.8, 365.9, 367.6, 369.3, 370.9, 373.4, 375.9, 378.4, 380.9, 383.4, 385.9,
              386.75, 390.5, 393.7, 397.0, 400.2, 403.4, 406.6, 409.9, 413.1, 416.3, 419.6,
              422.8, 426.0, 429.3, 432.5, 435.7, 439.0, 442.2, 445.4, 448]
signal_val = [-0.00044, -0.00050, -0.00034, -0.00050, -0.00066, -0.00034, 0.00046, 0.00127,
              0.00191, 0.00224, 0.00240, 0.00224, 0.00182, 0.00143, 0.00111, 0.00079, 0.00053,
              0.00030, 0.00014, 0.00008, 0.00014, 0.00053, 0.00085, 0.00101, 0.00104, 0.00104,
              0.00101, 0.00095, 0.00079, 0.00063, 0.00040, 0.00014, -0.00008, -0.00018,
              -0.00002, 0.00079, 0.00175, 0.00224, 0.00246, 0.00240, 0.00214, 0.00182, 0.00149,
              0.00127, 0.00117, 0.00127, 0.00159, 0.00201, 0.00214, 0.00201, 0.00224, 0.00246,
              0.00256, 0.00246, 0.00224, 0.00201, 0.00175, 0.00143, 0.00111, 0.00085, 0.00053,
              0.00021, -0.00008, -0.00044, -0.00083, -0.00121, -0.00163, -0.00189, -0.00205,
              -0.00211, -0.00195, -0.00163, -0.00131, -0.00105, -0.00089, -0.00083, -0.00076,
              -0.00083, -0.00066, -0.00060, -0.00060, -0.00050, -0.00034, -0.00018, -0.00008,
              -0.00002, -0.00002, -0.00002, -0.00002, -0.00008, -0.00018, -0.00034, -0.00066,
              -0.00099, -0.00131, -0.00153, -0.00163, -0.00163, -0.00155, -0.00147, -0.00130,
              -0.00109, -0.00085, -0.00043, 0.00011, 0.00048, 0.00069, 0.00081, 0.00091,
              0.00096, 0.00096, 0.00077, 0.00053, 0.00028, 0.00003, -0.00022, -0.00051,
              -0.00076, -0.00097, -0.00109, -0.00114, -0.00111, -0.00105, -0.00094, -0.00083,
              -0.00064, -0.00043, -0.00031, -0.00018, -0.00008, 0.00005, 0.00014, 0.00014,
              0.00008, -0.00002, -0.00034, -0.00076, -0.00115, -0.00147, -0.00179, -0.00173,
              -0.00147, -0.00115, -0.00108, -0.00130, -0.00173, -0.00199]

# ---------------- axes text -------------
price_ticks = [1.00825, 1.00570, 1.00315, 1.00060, 0.99805, 0.99550, 0.99295, 0.99040,
               0.98785, 0.98530, 0.98275, 0.98020, 0.97765, 0.97510, 0.97255]
price_tick_text = ["1.00825", "1.00570", "1.00315", "1.00060", "0.99805", "0.99550", "0.99295",
                   "0.99040", "0.98785", "0.98530", "0.98275", "0.98020", "0.97765", "0.97510",
                   "0.97255"]
last_price = 0.97403
last_price_text = "0.97403"
macd_top, macd_bottom = 0.003124, -0.003153
macd_top_text, macd_bottom_text = "0.003124", "-0.003153"

time_tick_idx = [0, 16, 32, 48, 64, 80, 96, 112, 128, 144, 160, 176, 192, 208, 224, 240, 256,
                 272, 288, 304, 320, 336, 352, 368, 384, 400, 416, 432, 448]
time_tick_text = ["21 Oct 2022", "21 Oct 13:00", "21 Oct 21:00", "24 Oct 05:00", "24 Oct 13:00",
                  "24 Oct 21:00", "25 Oct 05:00", "25 Oct 13:00", "25 Oct 21:00", "26 Oct 05:00",
                  "26 Oct 13:00", "26 Oct 21:00", "27 Oct 05:00", "27 Oct 13:00", "27 Oct 21:00",
                  "28 Oct 05:00", "28 Oct 13:00", "28 Oct 21:00", "31 Oct 05:00", "31 Oct 13:00",
                  "31 Oct 21:00", "1 Nov 05:00", "1 Nov 13:00", "1 Nov 21:00", "2 Nov 05:00",
                  "2 Nov 13:00", "2 Nov 21:00", "3 Nov 05:00", "3 Nov 13:00"]

vline_idx = [73, 130, 206, 229, 338, 364]
vline_text = ["2022.10.24 17:30", "2022.10.25 22:00", "2022.10.27 12:00",
              "2022.10.27 23:30", "2022.11.01 06:00", "2022.11.01 19:00"]
vline_color = ["#0000d0", "#e60000", "#c4c4c4", "#e60000", "#c4c4c4", "#0000d0"]
vline_label_bg = ["#0000f0", "#f00000", "#c4c4c4", "#f00000", "#c4c4c4", "#0000f0"]

# ---------------- geometry (pixels) -------------
PLOT_R = 1975
MAIN_T, MAIN_B = 3, 510
MACD_T, MACD_B = 514, 766
X_RANGE = [-0.875, 492.875]
Y_RANGE = [0.97007, 1.01023]


def px(x):
    return x / W


def py(y):
    return 1 - y / H


FONT = "Liberation Sans, Arial, sans-serif"
FS = 10

fig = go.Figure()

fig.add_trace(go.Ohlc(
    x=bar_idx, open=opens, high=highs, low=lows, close=closes,
    xaxis="x", yaxis="y", tickwidth=0.3,
    increasing=dict(line=dict(color="black", width=1)),
    decreasing=dict(line=dict(color="black", width=1)),
    hoverinfo="skip", showlegend=False))

fig.add_trace(go.Scatter(
    x=grey_idx, y=grey_val, xaxis="x", yaxis="y", mode="lines",
    line=dict(color="#c0c0c0", width=2, shape="spline", smoothing=0.6),
    hoverinfo="skip", showlegend=False))

fig.add_trace(go.Scatter(
    x=red_idx, y=red_val, xaxis="x", yaxis="y", mode="lines",
    line=dict(color="#e00000", width=2.2, shape="spline", smoothing=0.6),
    hoverinfo="skip", showlegend=False))

fig.add_trace(go.Bar(
    x=bar_idx, y=macd_hist, xaxis="x2", yaxis="y2", width=0.6,
    marker=dict(color="#c4c4c4", line=dict(width=0)),
    hoverinfo="skip", showlegend=False))

fig.add_trace(go.Scatter(
    x=signal_idx, y=signal_val, xaxis="x2", yaxis="y2", mode="lines",
    line=dict(color="#dd0000", width=1, dash="dot", shape="spline", smoothing=0.6),
    hoverinfo="skip", showlegend=False))

xdom = [0, px(PLOT_R)]
fig.update_layout(
    width=W, height=H,
    margin=dict(l=0, r=0, t=0, b=0, pad=0),
    paper_bgcolor="white", plot_bgcolor="white",
    showlegend=False, bargap=0,
    font=dict(family=FONT, size=FS, color="black"),
    xaxis=dict(domain=xdom, range=X_RANGE, anchor="y", showgrid=False, zeroline=False,
               showticklabels=False, ticks="", showline=False,
               rangeslider=dict(visible=False), fixedrange=True),
    yaxis=dict(domain=[py(MAIN_B), py(MAIN_T)], range=Y_RANGE, anchor="x", side="right",
               showgrid=False, zeroline=False, showline=False,
               tickvals=price_ticks, ticktext=[""] * len(price_ticks),
               ticks="outside", ticklen=4, tickcolor="black", tickwidth=1, automargin=False),
    xaxis2=dict(domain=xdom, range=X_RANGE, anchor="y2", showgrid=False, zeroline=False,
                showline=False, tickvals=time_tick_idx, ticktext=[""] * len(time_tick_idx),
                ticks="outside", ticklen=4, tickcolor="black", tickwidth=1, automargin=False),
    yaxis2=dict(domain=[py(MACD_B), py(MACD_T)], range=[macd_bottom, macd_top], anchor="x2",
                side="right", showgrid=False, zeroline=False, showline=False,
                tickvals=[macd_top, macd_bottom], ticktext=["", ""],
                ticks="outside", ticklen=4, tickcolor="black", tickwidth=1, automargin=False),
)

shapes = []
# vertical object lines
for xi, col in zip(vline_idx, vline_color):
    shapes.append(dict(type="line", xref="x", yref="paper", x0=xi, x1=xi,
                       y0=py(772), y1=py(MAIN_T), line=dict(color=col, width=1), layer="below"))
# current price line
shapes.append(dict(type="line", xref="paper", yref="y", x0=0, x1=px(PLOT_R),
                   y0=last_price, y1=last_price, line=dict(color="#0000c0", width=1), layer="above"))
# frames
shapes.append(dict(type="rect", xref="paper", yref="paper", x0=px(0.5), x1=px(PLOT_R + 0.5),
                   y0=py(MAIN_B + 0.5), y1=py(MAIN_T - 0.5), line=dict(color="black", width=1),
                   fillcolor="rgba(0,0,0,0)", layer="above"))
shapes.append(dict(type="rect", xref="paper", yref="paper", x0=px(0.5), x1=px(PLOT_R + 0.5),
                   y0=py(MACD_B + 0.5), y1=py(MACD_T - 0.5), line=dict(color="black", width=1),
                   fillcolor="rgba(0,0,0,0)", layer="above"))
fig.update_layout(shapes=shapes)

ann = []
ann.append(dict(text=title_text, xref="paper", yref="paper", x=px(3), y=py(10),
                xanchor="left", yanchor="middle", showarrow=False,
                font=dict(family=FONT, size=FS, color="black")))
ann.append(dict(text=macd_text, xref="paper", yref="paper", x=px(5), y=py(522),
                xanchor="left", yanchor="middle", showarrow=False,
                font=dict(family=FONT, size=FS, color="black")))
for pv, pt in zip(price_ticks, price_tick_text):
    ann.append(dict(text=pt, xref="paper", yref="y", x=px(1980), y=pv,
                    xanchor="left", yanchor="middle", showarrow=False,
                    font=dict(family=FONT, size=FS, color="black")))
ann.append(dict(text=macd_top_text, xref="paper", yref="paper", x=px(1980), y=py(518),
                xanchor="left", yanchor="middle", showarrow=False,
                font=dict(family=FONT, size=FS, color="black")))
ann.append(dict(text=macd_bottom_text, xref="paper", yref="paper", x=px(1980), y=py(762),
                xanchor="left", yanchor="middle", showarrow=False,
                font=dict(family=FONT, size=FS, color="black")))
ann.append(dict(text=last_price_text, xref="paper", yref="y", x=px(1978), y=last_price,
                xanchor="left", yanchor="middle", showarrow=False, bgcolor="#0000f0",
                borderpad=1, font=dict(family=FONT, size=FS, color="white")))
for xi, t in zip(time_tick_idx, time_tick_text):
    ann.append(dict(text=t, xref="x2", yref="paper", x=xi, y=py(777), xshift=1,
                    xanchor="left", yanchor="middle", showarrow=False,
                    font=dict(family=FONT, size=FS, color="black")))
for xi, t, bg in zip(vline_idx, vline_text, vline_label_bg):
    ann.append(dict(text=t, xref="x2", yref="paper", x=xi, y=py(777),
                    xanchor="center", yanchor="middle", showarrow=False, bgcolor=bg,
                    borderpad=1, font=dict(family=FONT, size=FS, color="white")))
fig.update_layout(annotations=ann)

fig.write_html("out.html",
               config={"displayModeBar": False, "staticPlot": True},
               post_script="document.body.style.margin='0px';"
                           "document.body.style.overflow='hidden';")
